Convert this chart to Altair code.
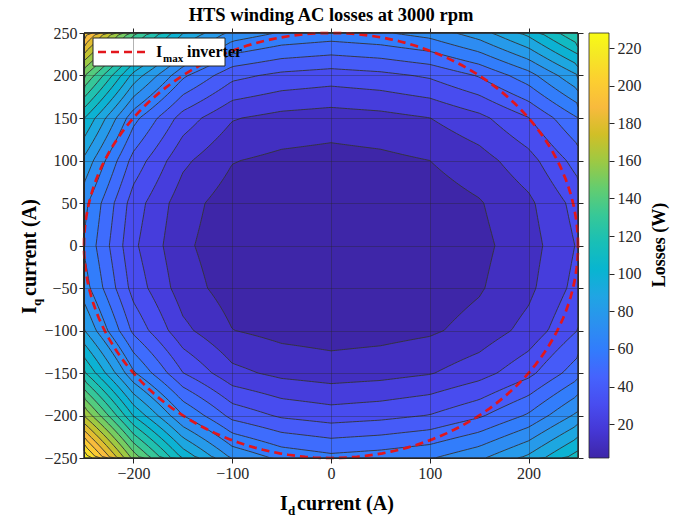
import numpy as np
import pandas as pd
import altair as alt

alt.data_transformers.disable_max_rows()

# ---------------- data ----------------
id_current = [-250, -200, -150, -100, -50, 0, 50, 100, 150, 200, 250]
iq_current = [250, 200, 150, 100, 50, 0, -50, -100, -150, -200, -250]

# Losses (W): one list per Iq row (top row Iq = +250), columns follow id_current
loss_iq_p250 = [206.0, 143.0, 100.5, 76.5, 69.0, 66.0, 68.7, 74.0, 85.3, 103.1, 130.3]
loss_iq_p200 = [151.0, 96.5, 62.0, 43.0, 37.4, 35.0, 37.2, 41.5, 50.9, 65.9, 89.6]
loss_iq_p150 = [110.5, 63.5, 35.6, 20.8, 16.7, 15.0, 16.6, 19.9, 27.3, 39.6, 59.9]
loss_iq_p100 = [87.8, 46.4, 22.3, 10.5, 7.6, 6.4, 7.6, 10.0, 15.9, 26.3, 44.2]
loss_iq_p050 = [73.2, 35.2, 14.2, 4.9, 3.1, 2.5, 3.1, 4.7, 9.2, 17.9, 34.0]
loss_iq_000 = [69.0, 32.0, 12.0, 3.7, 2.3, 2.0, 2.3, 3.5, 7.4, 15.6, 31.0]
loss_iq_m050 = [74.7, 36.2, 14.8, 5.2, 3.2, 2.5, 3.1, 4.6, 9.0, 17.6, 33.6]
loss_iq_m100 = [90.5, 47.7, 22.7, 10.2, 6.8, 5.4, 6.4, 8.5, 13.7, 23.4, 40.2]
loss_iq_m150 = [121.6, 71.5, 40.2, 22.9, 17.3, 15.0, 16.4, 19.3, 25.9, 37.1, 55.9]
loss_iq_m200 = [169.5, 109.4, 70.1, 46.7, 38.4, 35.0, 36.9, 40.4, 48.4, 61.4, 82.6]
loss_iq_m250 = [228.0, 156.9, 108.6, 78.8, 67.5, 63.0, 65.3, 69.1, 78.1, 92.6, 115.6]

contour_levels = [10, 20, 30, 40, 50, 60, 70, 80, 90, 100, 110, 120, 130, 140, 150,
                  160, 170, 180, 190, 200, 210, 220]
x_ticks = [-200, -100, 0, 100, 200]
y_ticks = [-250, -200, -150, -100, -50, 0, 50, 100, 150, 200, 250]
colorbar_ticks = [20, 40, 60, 80, 100, 120, 140, 160, 180, 200, 220]
imax_inverter = 250

# parula colour map (sampled)
parula_pos = [0, 4, 8, 12, 16, 20, 24, 28, 32, 36, 40, 44, 48, 52, 56, 60, 63]
parula_hex = ["#3e26a8", "#4537d5", "#484df0", "#4563fd", "#327cfc", "#2b91ef",
              "#20a5e3", "#08b5d0", "#19bfb6", "#37c897", "#64cd6f", "#9dc943",
              "#d1bf27", "#f8ba3d", "#fccf30", "#f5e924", "#f9fb15"]

# ---------------- contour geometry derived from the grid ----------------
rows = [loss_iq_p250, loss_iq_p200, loss_iq_p150, loss_iq_p100, loss_iq_p050, loss_iq_000,
        loss_iq_m050, loss_iq_m100, loss_iq_m150, loss_iq_m200, loss_iq_m250]
Z = np.array(rows, dtype=float)[::-1]          # row 0 -> Iq = -250
gx = np.array(id_current, dtype=float)
gy = np.array(iq_current[::-1], dtype=float)
dx = gx[1] - gx[0]
dy = gy[1] - gy[0]
cmin, cmax = float(Z.min()), float(Z.max())


def bilinear(x, y):
    fx = (x - gx[0]) / dx
    fy = (y - gy[0]) / dy
    i = np.clip(np.floor(fx).astype(int), 0, len(gx) - 2)
    j = np.clip(np.floor(fy).astype(int), 0, len(gy) - 2)
    tx = fx - i
    ty = fy - j
    return (Z[j, i] * (1 - tx) * (1 - ty) + Z[j, i + 1] * tx * (1 - ty)
            + Z[j + 1, i] * (1 - tx) * ty + Z[j + 1, i + 1] * tx * ty)


jmin, imin = np.unravel_index(np.argmin(Z), Z.shape)
cx, cy = gx[imin], gy[jmin]
half_x = gx[-1]
theta = np.deg2rad(np.arange(0, 360, 1.0))
ct, st = np.cos(theta), np.sin(theta)
rmax = half_x / np.maximum(np.abs(ct), np.abs(st))
frac = np.linspace(0, 1, 1001)
R = rmax[:, None] * frac[None, :]
V = bilinear(cx + R * ct[:, None], cy + R * st[:, None])

poly_rows = []
poly_levels = [cmax + 1.0] + contour_levels[::-1]
for L in poly_levels:
    mask = V >= L
    has = mask.any(axis=1)
    k = np.argmax(mask, axis=1)
    r = rmax.copy()
    idx = np.where(has & (k > 0))[0]
    for a in idx:
        kk = k[a]
        v0, v1 = V[a, kk - 1], V[a, kk]
        r[a] = R[a, kk - 1] + (L - v0) / (v1 - v0) * (R[a, kk] - R[a, kk - 1])
    band = (L - 10) if L > contour_levels[0] else cmin
    if L > cmax:
        band = contour_levels[-1]
    for n in range(len(theta)):
        poly_rows.append({"level": float(L), "idx": n,
                          "id": round(float(cx + r[n] * ct[n]), 2),
                          "iq": round(float(cy + r[n] * st[n]), 2),
                          "band": float(band)})
poly_df = pd.DataFrame(poly_rows)

circ_t = np.deg2rad(np.arange(0, 362, 2.0))
circle_df = pd.DataFrame({"idx": np.arange(len(circ_t)),
                          "id": imax_inverter * np.cos(circ_t),
                          "iq": imax_inverter * np.sin(circ_t)})

# ---------------- chart ----------------
W, H = 494, 425
SERIF = "Liberation Serif"
INK = "#262626"

xscale = alt.Scale(domain=[-250, 250], nice=False, zero=False)
yscale = alt.Scale(domain=[-250, 250], nice=False, zero=False)
axis_common = dict(labelFont=SERIF, labelFontSize=16, labelColor=INK, tickColor=INK,
                   tickSize=5, labelPadding=2, domainColor=INK, gridColor=INK,
                   gridOpacity=0.35, grid=True, zindex=1)
X = alt.X("id:Q", scale=xscale, axis=alt.Axis(values=x_ticks, **axis_common), title=None)
Y = alt.Y("iq:Q", scale=yscale, axis=alt.Axis(values=y_ticks, **axis_common), title=None)

color_domain = [cmin + (cmax - cmin) * p / 63.0 for p in parula_pos]
cscale = alt.Scale(domain=color_domain, range=parula_hex, interpolate="rgb")

layers = []
for L in poly_levels:
    sub = poly_df[poly_df["level"] == float(L)]
    layers.append(
        alt.Chart(sub).mark_line(filled=True, interpolate="linear-closed",
                                 stroke="#333333", strokeWidth=0.9)
        .encode(x=X, y=Y, order=alt.Order("idx:Q"),
                color=alt.Color("band:Q", scale=cscale, legend=None))
    )

circle = alt.Chart(circle_df).mark_line(color="#e3161c", strokeWidth=2.7,
                                        strokeDash=[8, 5], clip=False).encode(
    x=X, y=Y, order=alt.Order("idx:Q"))
layers.append(circle)

one = pd.DataFrame({"k": [0]})


def txt(s, x, y, size, weight="bold", angle=0, align="left", baseline="alphabetic"):
    return alt.Chart(one).mark_text(text=s, font=SERIF, fontSize=size, fontWeight=weight,
                                    color="#000000", angle=angle, align=align,
                                    baseline=baseline).encode(x=alt.value(x), y=alt.value(y))


frame = alt.Chart(one).mark_rect(filled=False, stroke=INK, strokeWidth=1).encode(
    x=alt.value(0), x2=alt.value(W), y=alt.value(0), y2=alt.value(H))
legend_box = alt.Chart(one).mark_rect(fill="white", stroke=INK, strokeWidth=1).encode(
    x=alt.value(9), x2=alt.value(141), y=alt.value(5), y2=alt.value(33))
legend_dash = alt.Chart(one).mark_rule(color="#e3161c", strokeWidth=2.7,
                                       strokeDash=[8, 5]).encode(
    x=alt.value(14), x2=alt.value(66), y=alt.value(19), y2=alt.value(19))
layers += [frame, legend_box, legend_dash,
           txt("I", 72, 24, 16), txt("max", 79, 29, 11), txt("inverter", 103, 24, 16),
           txt("I", 196, 477, 20), txt("d", 204, 482, 13), txt("current (A)", 213, 477, 20),
           txt("I", -48, 281, 20, angle=270), txt("q", -43, 273, 13, angle=270),
           txt("current (A)", -48, 263, 20, angle=270),
           txt("Losses (W)", 576, 212, 18, angle=270, align="center", baseline="middle")]

inner = alt.layer(*layers)

# mirrored outward ticks on the top and right edges of the box
tick_axis = dict(labels=False, grid=False, domain=False, ticks=True, tickSize=5,
                 tickColor=INK)
tick_top = alt.Chart(pd.DataFrame({"id": [0.0]})).mark_point(opacity=0).encode(
    x=alt.X("id:Q", scale=xscale,
            axis=alt.Axis(orient="top", values=x_ticks, **tick_axis), title=None))
tick_right = alt.Chart(pd.DataFrame({"iq": [0.0]})).mark_point(opacity=0).encode(
    y=alt.Y("iq:Q", scale=yscale,
            axis=alt.Axis(orient="right", values=y_ticks, **tick_axis), title=None))

main = alt.layer(inner, tick_top, tick_right).resolve_axis(x="independent", y="independent")

cb_df = pd.DataFrame({"lo": [cmin], "hi": [cmax]})
grad = alt.Gradient(gradient="linear", x1=0, x2=0, y1=1, y2=0,
                    stops=[alt.GradientStop(offset=p / 63.0, color=c)
                           for p, c in zip(parula_pos, parula_hex)])
colorbar = alt.Chart(cb_df).mark_rect(color=grad, stroke=INK, strokeWidth=0.8).encode(
    x=alt.value(505), x2=alt.value(525),
    y=alt.Y("lo:Q", scale=alt.Scale(domain=[cmin, cmax], nice=False, zero=False),
            axis=alt.Axis(orient="right", offset=31, values=colorbar_ticks, domain=False,
                          grid=False, labelFont=SERIF, labelFontSize=16, labelColor=INK,
                          tickColor=INK, tickSize=5, labelPadding=3),
            title=None),
    y2="hi:Q")

chart = alt.layer(main, colorbar).resolve_scale(y="independent").properties(
    width=W, height=H,
    autosize=alt.AutoSizeParams(type="none"),
    padding={"left": 84, "top": 33, "right": 687 - 84 - W, "bottom": 525 - 33 - H},
    title=alt.Title("HTS winding AC losses at 3000 rpm", font=SERIF, fontSize=18.5,
                    fontWeight="bold", color="#000000", frame="group", anchor="middle",
                    offset=1),
).configure_view(stroke=None)

chart.save("out.html", embed_options={"renderer": "svg", "actions": False})
